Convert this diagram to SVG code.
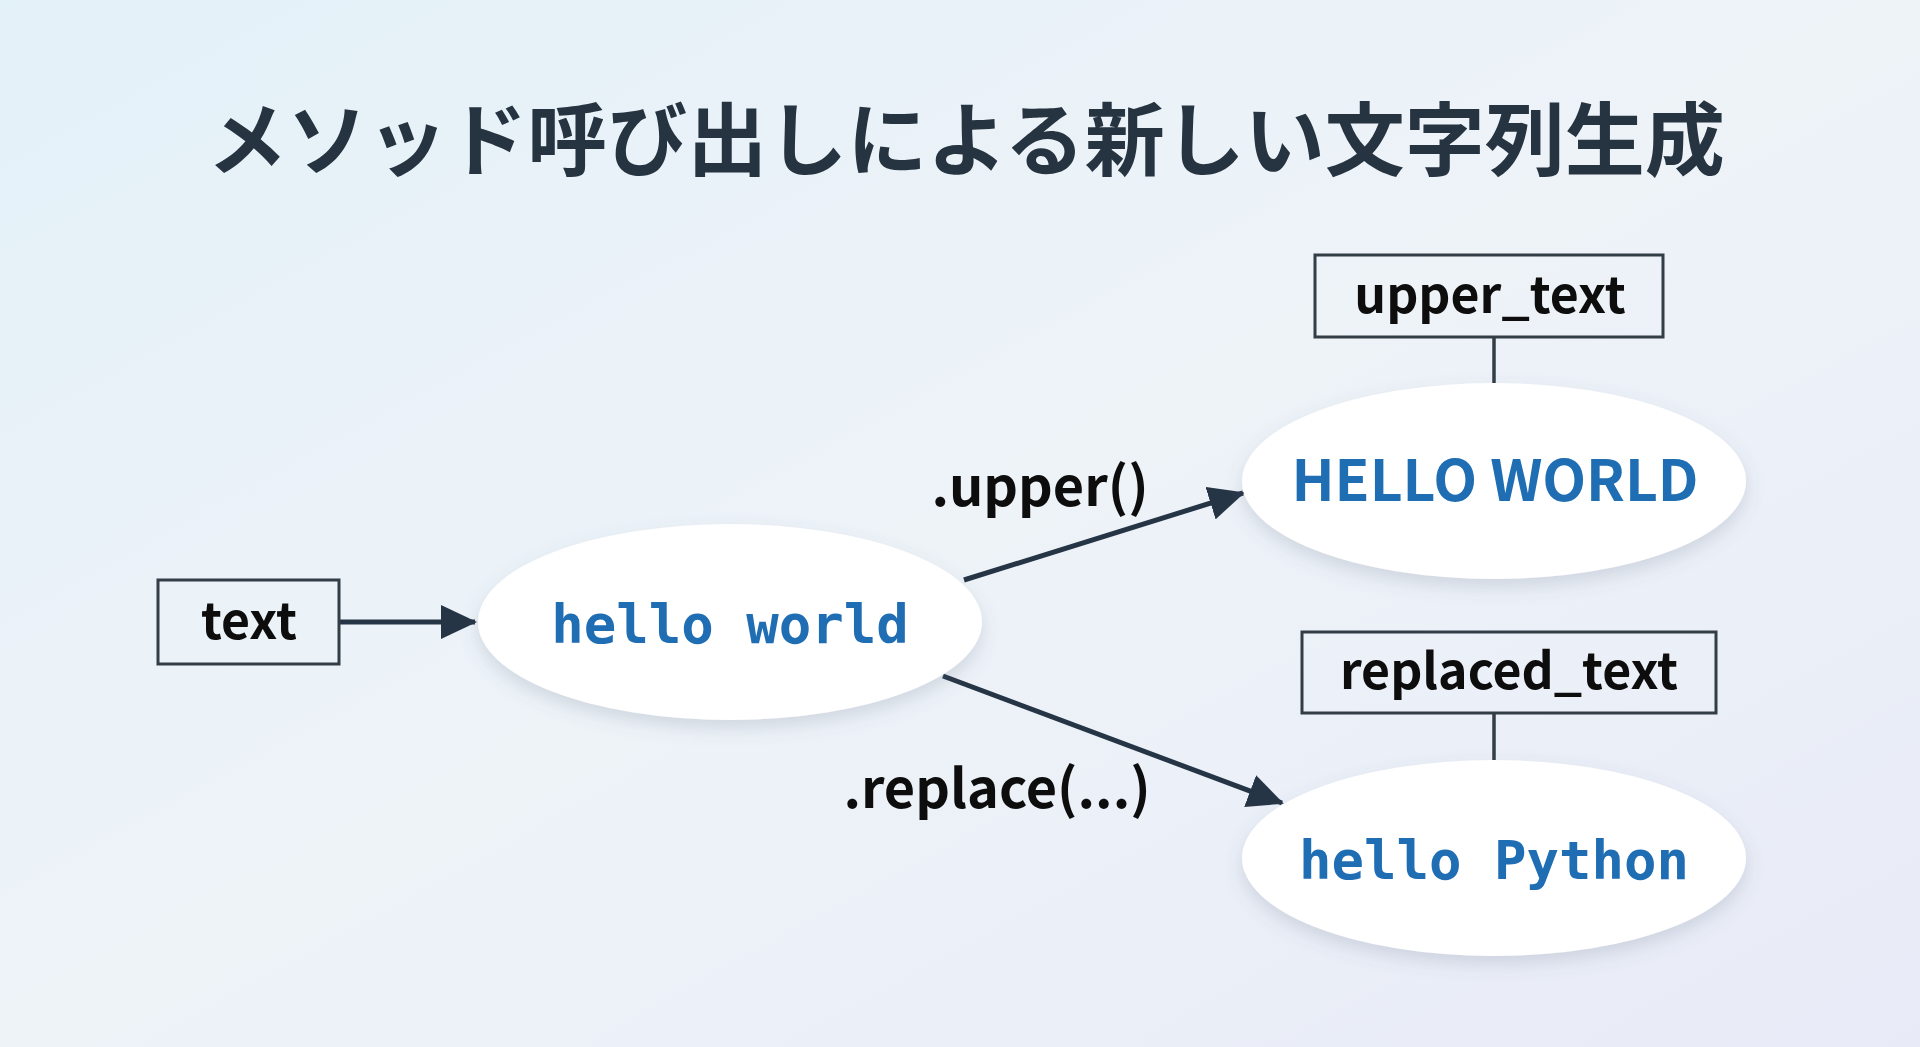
<svg xmlns="http://www.w3.org/2000/svg" width="1920" height="1047" viewBox="0 0 1920 1047">
<defs>
<linearGradient id="bg" x1="0" y1="0" x2="1" y2="1">
<stop offset="0" stop-color="#e3f1f8"/>
<stop offset="0.5" stop-color="#eef3f8"/>
<stop offset="1" stop-color="#e8ebf7"/>
</linearGradient>
<filter id="shadow" x="-20%" y="-20%" width="140%" height="150%">
<feDropShadow dx="0" dy="8" stdDeviation="9" flood-color="#5a6a80" flood-opacity="0.2"/>
</filter>
<marker id="arrow" markerUnits="userSpaceOnUse" markerWidth="36" markerHeight="34" refX="34" refY="17" orient="auto">
<path d="M0,0 L36,17 L0,34 Z" fill="#263545"/>
</marker>
<style>
.title{font-family:"Noto Sans CJK JP","Noto Sans",sans-serif;font-weight:700;font-size:80px;fill:#263340;text-anchor:middle}
.box{fill:none;stroke:#333d46;stroke-width:3}
.lbl{font-family:"Noto Sans CJK JP","Noto Sans",sans-serif;font-weight:700;font-size:50px;fill:#0d0d0d;text-anchor:middle}
.elbl{font-family:"Noto Sans CJK JP","Noto Sans",sans-serif;font-weight:700;font-size:54px;fill:#0d0d0d;text-anchor:middle}
.ell{fill:#ffffff;filter:url(#shadow)}
.mono{font-family:"DejaVu Sans Mono","Liberation Mono",monospace;font-weight:700;font-size:54px;fill:#1f6db3;text-anchor:middle}
.caps{font-family:"Noto Sans CJK JP","Noto Sans",sans-serif;font-weight:700;font-size:57px;fill:#1f6db3;text-anchor:middle}
.edge{stroke:#263545;stroke-width:5;fill:none}
.tie{stroke:#333d46;stroke-width:3.5;fill:none}
</style>
</defs>
<rect x="0" y="0" width="1920" height="1047" fill="url(#bg)"/>
<text class="title" x="966" y="169">メソッド呼び出しによる新しい文字列生成</text>

<g id="connectors">
<line class="edge" x1="339" y1="622" x2="475" y2="622" marker-end="url(#arrow)"/>
<line class="edge" x1="964" y1="580" x2="1243" y2="493" marker-end="url(#arrow)"/>
<line class="edge" x1="943" y1="676" x2="1282" y2="803" marker-end="url(#arrow)"/>
<line class="tie" x1="1494" y1="337" x2="1494" y2="383"/>
<line class="tie" x1="1494" y1="713" x2="1494" y2="760"/>
<text class="elbl" x="1040" y="506">.upper()</text>
<text class="elbl" x="997" y="808">.replace(...)</text>
</g>

<g id="node-text">
<rect class="box" x="158" y="580" width="181" height="84"/>
<text class="lbl" x="249" y="639">text</text>
</g>

<g id="node-hello-world">
<ellipse class="ell" cx="730" cy="622" rx="252" ry="98"/>
<text class="mono" x="730" y="643">hello world</text>
</g>

<g id="node-upper-text">
<rect class="box" x="1315" y="255" width="348" height="82"/>
<text class="lbl" x="1490" y="313">upper_text</text>
</g>

<g id="node-HELLO-WORLD">
<ellipse class="ell" cx="1494" cy="481" rx="252" ry="98"/>
<text class="caps" x="1495" y="501">HELLO WORLD</text>
</g>

<g id="node-replaced-text">
<rect class="box" x="1302" y="632" width="414" height="81"/>
<text class="lbl" x="1509" y="689">replaced_text</text>
</g>

<g id="node-hello-python">
<ellipse class="ell" cx="1494" cy="858" rx="252" ry="98"/>
<text class="mono" x="1494" y="879">hello Python</text>
</g>
</svg>
